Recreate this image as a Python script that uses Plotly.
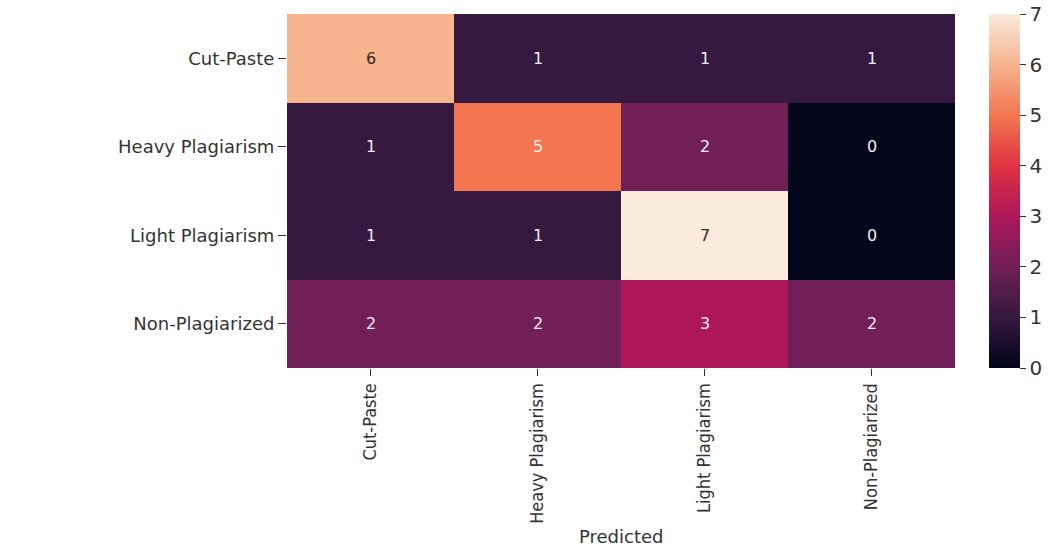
import plotly.graph_objects as go

labels = ["Cut-Paste", "Heavy Plagiarism", "Light Plagiarism", "Non-Plagiarized"]
# confusion matrix: rows = actual, columns = predicted
counts = [
    [6, 1, 1, 1],
    [1, 5, 2, 0],
    [1, 1, 7, 0],
    [2, 2, 3, 2],
]

# "rocket" style colour ramp
rocket = [
    [0.0, "#03051a"],
    [1 / 7, "#35193e"],
    [2 / 7, "#701f57"],
    [3 / 7, "#ad1759"],
    [4 / 7, "#e13342"],
    [5 / 7, "#f37651"],
    [6 / 7, "#f6b48f"],
    [1.0, "#faebdd"],
]

W, H = 1054, 546
L, R, T, B = 287, 0, 14, 178
plot_w = W - L - R
heat_right = 955
cbar_left = 989

zmin, zmax = 0, 7
fig = go.Figure()
fig.add_trace(go.Heatmap(
    z=counts, x=labels, y=labels,
    colorscale=rocket, zmin=zmin, zmax=zmax,
    xgap=0, ygap=0,
    colorbar=dict(
        x=(cbar_left - L) / plot_w, xanchor="left", y=0.5, yanchor="middle",
        len=1.0, lenmode="fraction", thickness=31, ypad=0, xpad=0,
        outlinewidth=0, ticks="outside", ticklen=6, tickcolor="#333",
        tickvals=list(range(8)), ticktext=[str(v) for v in range(8)],
        tickfont=dict(family="DejaVu Sans", size=20, color="#333"),
    ),
    showscale=True,
))

# cell annotations: light text on dark cells, dark text on light cells
for i, row in enumerate(counts):
    for j, v in enumerate(row):
        frac = (v - zmin) / (zmax - zmin)
        color = "#3a2a22" if frac > 0.8 else "#eeeeee"
        fig.add_annotation(x=labels[j], y=labels[i], text=str(v), showarrow=False,
                           font=dict(family="DejaVu Sans", size=16, color=color))

fig.add_annotation(x=((L + heat_right) / 2 - L) / plot_w, y=-0.477,
                   xref="paper", yref="paper", yanchor="middle",
                   text="Predicted", showarrow=False,
                   font=dict(family="DejaVu Sans", size=18, color="#333"))

fig.update_xaxes(domain=[0, (heat_right - L) / plot_w],
                 tickangle=-90, ticks="outside", ticklen=7, tickcolor="#333",
                 tickfont=dict(family="DejaVu Sans Condensed", size=18, color="#333"),
                 showgrid=False, zeroline=False, showline=False)
fig.update_yaxes(autorange="reversed", ticks="outside", ticklen=8, tickcolor="#333",
                 tickfont=dict(family="DejaVu Sans", size=18, color="#333"),
                 showgrid=False, zeroline=False, showline=False)

fig.update_layout(
    width=W, height=H,
    margin=dict(l=L, r=R, t=T, b=B, autoexpand=False),
    paper_bgcolor="white", plot_bgcolor="white",
)

fig.write_html("out.html")
